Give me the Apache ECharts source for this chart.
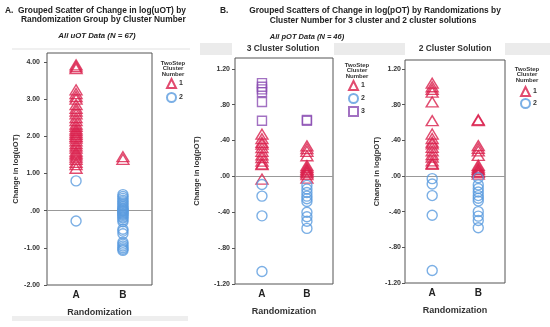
<!DOCTYPE html>
<html><head><meta charset="utf-8">
<script src="https://cdn.jsdelivr.net/npm/echarts@6/dist/echarts.min.js"></script>
<style>html,body{margin:0;padding:0;background:#fff}#c{width:550px;height:327px}</style>
</head><body><div id="c"></div>
<script>
// ---- categories & ticks ----
const groups = ['A', 'B'];
const clusters2 = ['1', '2'];
const clusters3 = ['1', '2', '3'];
const ticksUOT = [-2, -1, 0, 1, 2, 3, 4];
const ticksPOT = [-1.2, -0.8, -0.4, 0, 0.4, 0.8, 1.2];

// ---- Panel A: change in log(uOT), 2-cluster ----
const uotA_c1 = [3.92,3.87,3.82,3.25,3.15,3.07,3.0,2.85,2.75,2.68,2.6,2.5,2.42,2.33,2.27,2.2,2.15,2.1,2.05,2.0,1.95,1.88,1.8,1.74,1.68,1.6,1.55,1.5,1.44,1.38,1.3,1.24,1.14];
const uotB_c1 = [1.45, 1.38];
const uotA_c2 = [0.8, -0.28];
const uotB_c2 = [0.43,0.38,0.33,0.28,0.24,0.2,0.15,0.11,0.07,0.04,0.02,0.0,-0.02,-0.05,-0.08,-0.1,-0.13,-0.17,-0.2,-0.25,-0.3,-0.5,-0.55,-0.62,-0.85,-0.9,-0.95,-1.0,-1.04,-1.07];

// ---- Panel B1: change in log(pOT), 3-cluster solution ----
const pot3A_c1 = [0.47,0.42,0.38,0.36,0.32,0.28,0.24,0.21,0.17,0.14,0.13,-0.03];
const pot3A_c2 = [-0.09,-0.22,-0.44,-1.06];
const pot3A_c3 = [1.04,1.0,0.97,0.94,0.83,0.62];
const pot3B_c1 = [0.34,0.31,0.28,0.23,0.12,0.1,0.08,0.07,0.05,0.04,0.02,-0.02];
const pot3B_c2 = [-0.1,-0.14,-0.18,-0.22,-0.25,-0.28,-0.4,-0.45,-0.5,-0.58];
const pot3B_c3 = [0.63,0.62];

// ---- Panel B2: change in log(pOT), 2-cluster solution ----
const pot2A_c1 = [1.04,1.0,0.97,0.94,0.83,0.62,0.47,0.42,0.38,0.36,0.32,0.28,0.24,0.21,0.17,0.14,0.13];
const pot2A_c2 = [-0.03,-0.09,-0.22,-0.44,-1.06];
const pot2B_c1 = [0.63,0.62,0.34,0.31,0.28,0.23,0.12,0.1,0.08,0.07,0.05,0.04,0.02];
const pot2B_c2 = [-0.02,-0.1,-0.14,-0.18,-0.22,-0.25,-0.28,-0.4,-0.45,-0.5,-0.58];

const RED = '#D91E4B', BLUE = '#5A9BDE', PURPLE = '#8B4DB3';
const BOX = '#555';
const FONT = 'Arial, "Liberation Sans", sans-serif';
const sty = {
  '1': {symbol: 'triangle', size: [12, 10], color: RED},
  '2': {symbol: 'circle', size: 10, color: BLUE},
  '3': {symbol: 'rect', size: 9, color: PURPLE}
};
const spss = v => {
  const s = Math.abs(v).toFixed(2).replace(/^0\./, '.');
  return (v < -1e-9 ? '-' : '') + s;
};
const pts = (aVals, bVals) => aVals.map(v => [1, v]).concat(bVals.map(v => [2, v]));

function mkSeries(name, grid, data, withZero) {
  const st = sty[name];
  const s = {
    type: 'scatter', name, xAxisIndex: grid, yAxisIndex: grid, data,
    symbol: st.symbol, symbolSize: st.size,
    itemStyle: {color: 'rgba(255,255,255,0)', borderColor: st.color, borderWidth: 1.4},
    emphasis: {disabled: true}, silent: true, z: 3
  };
  if (withZero) {
    s.markLine = {silent: true, symbol: 'none', label: {show: false}, z: 1,
      lineStyle: {color: '#999', width: 1, type: 'solid'}, data: [{yAxis: 0}]};
  }
  return s;
}

const grids = [
  {left: 47, top: 53, width: 105, height: 232},
  {left: 235, top: 58, width: 98, height: 226},
  {left: 405, top: 60, width: 100, height: 223}
].map(g => Object.assign(g, {show: true, borderColor: BOX, borderWidth: 1, backgroundColor: 'transparent', containLabel: false}));

const xRanges = [[0.38, 2.62], [0.4, 2.58], [0.41, 2.58]];
const xAxes = xRanges.map((r, i) => ({
  type: 'value', gridIndex: i, min: r[0], max: r[1],
  name: 'Randomization', nameLocation: 'middle', nameGap: 23,
  nameTextStyle: {fontFamily: FONT, fontWeight: 'bold', fontSize: 9, color: '#333'},
  axisLine: {show: false}, axisTick: {show: false}, splitLine: {show: false},
  axisLabel: {customValues: [1, 2], formatter: v => groups[Math.round(v) - 1] || '',
    fontFamily: FONT, fontWeight: 'bold', fontSize: 10, color: '#222', margin: 5}
}));

const yDefs = [
  {min: -2, max: 4.24, interval: 1, ticks: ticksUOT, name: 'Change in log(uOT)', gap: 25, margin: 7},
  {min: -1.2, max: 1.32, interval: 0.4, ticks: ticksPOT, name: 'Change in log(pOT)', gap: 34, margin: 5},
  {min: -1.2, max: 1.30, interval: 0.4, ticks: ticksPOT, name: 'Change in log(pOT)', gap: 24, margin: 4}
];
const yAxes = yDefs.map((d, i) => ({
  type: 'value', gridIndex: i, min: d.min, max: d.max, interval: d.interval,
  name: d.name, nameLocation: 'middle', nameGap: d.gap,
  nameTextStyle: {fontFamily: FONT, fontWeight: 'bold', fontSize: 7.5, color: '#333'},
  axisLine: {show: false}, splitLine: {show: false},
  axisTick: {show: true, customValues: d.ticks, length: 3, lineStyle: {color: BOX}},
  axisLabel: {customValues: d.ticks, formatter: spss, fontFamily: FONT, fontWeight: 'bold', fontSize: 7, color: '#333', margin: d.margin}
}));

const series = [
  mkSeries('1', 0, pts(uotA_c1, uotB_c1), true),
  mkSeries('2', 0, pts(uotA_c2, uotB_c2), false),
  mkSeries('1', 1, pts(pot3A_c1, pot3B_c1), true),
  mkSeries('2', 1, pts(pot3A_c2, pot3B_c2), false),
  mkSeries('3', 1, pts(pot3A_c3, pot3B_c3), false),
  mkSeries('1', 2, pts(pot2A_c1, pot2B_c1), true),
  mkSeries('2', 2, pts(pot2A_c2, pot2B_c2), false)
];

const legBase = {orient: 'vertical', itemWidth: 9, itemHeight: 9, selectedMode: false,
  textStyle: {fontFamily: FONT, fontWeight: 'bold', fontSize: 7, color: '#333', padding: [0, 0, 0, -2]}, padding: 0};
const legends = [
  Object.assign({left: 166, top: 78, itemGap: 3, data: clusters2}, legBase),
  Object.assign({left: 348, top: 80, itemGap: 2, data: clusters3}, legBase),
  Object.assign({left: 520, top: 86, itemGap: 1, data: clusters2}, legBase)
];

const tBold = (x, y, text, size, align, extra) => ({type: 'text', x, y, silent: true,
  style: Object.assign({text, fill: '#222', font: 'bold ' + size + 'px ' + FONT, align: align || 'left', verticalAlign: 'middle'}, extra || {})});
const legTitle = (x, y) => ({type: 'text', x, y, silent: true,
  style: {text: 'TwoStep\nCluster\nNumber', fill: '#333', font: 'bold 6px ' + FONT, align: 'center', verticalAlign: 'top', lineHeight: 5.8}});

const graphic = [
  // panel A headings
  tBold(5, 11, 'A.', 8.4),
  tBold(18, 11, 'Grouped Scatter of Change in log(uOT) by', 8.4),
  tBold(21, 20, 'Randomization Group by Cluster Number', 8.4),
  tBold(97, 36, 'All uOT Data (N = 67)', 7.8, 'center', {font: 'italic bold 7.8px ' + FONT}),
  {type: 'rect', silent: true, shape: {x: 12, y: 48.5, width: 178, height: 1}, style: {fill: '#e2e2e2'}},
  {type: 'rect', silent: true, shape: {x: 12, y: 316, width: 176, height: 5}, style: {fill: '#eeeeee'}},
  legTitle(173, 60),
  // panel B headings
  tBold(220, 11, 'B.', 8.4),
  tBold(375, 11, 'Grouped Scatters of Change in log(pOT) by Randomizations by', 8.4, 'center'),
  tBold(373, 21, 'Cluster Number for 3 cluster and 2 cluster solutions', 8.4, 'center'),
  tBold(307, 37, 'All pOT Data (N = 46)', 7.5, 'center', {font: 'italic bold 7.5px ' + FONT}),
  {type: 'rect', silent: true, z: -10, shape: {x: 200, y: 43, width: 350, height: 12}, style: {fill: '#ebebeb'}},
  {type: 'rect', silent: true, z: -9, shape: {x: 232, y: 43, width: 102, height: 15}, style: {fill: '#ffffff'}},
  {type: 'rect', silent: true, z: -9, shape: {x: 405, y: 43, width: 100, height: 17}, style: {fill: '#ffffff'}},
  tBold(283, 49, '3 Cluster Solution', 8.5, 'center', {fill: '#333'}),
  tBold(455, 49, '2 Cluster Solution', 8.5, 'center', {fill: '#333'}),
  legTitle(357, 62),
  legTitle(527, 66)
];

const chart = echarts.init(document.getElementById('c'));
chart.setOption({
  animation: false, backgroundColor: '#fff',
  grid: grids, xAxis: xAxes, yAxis: yAxes, series, legend: legends, graphic
});
</script></body></html>
